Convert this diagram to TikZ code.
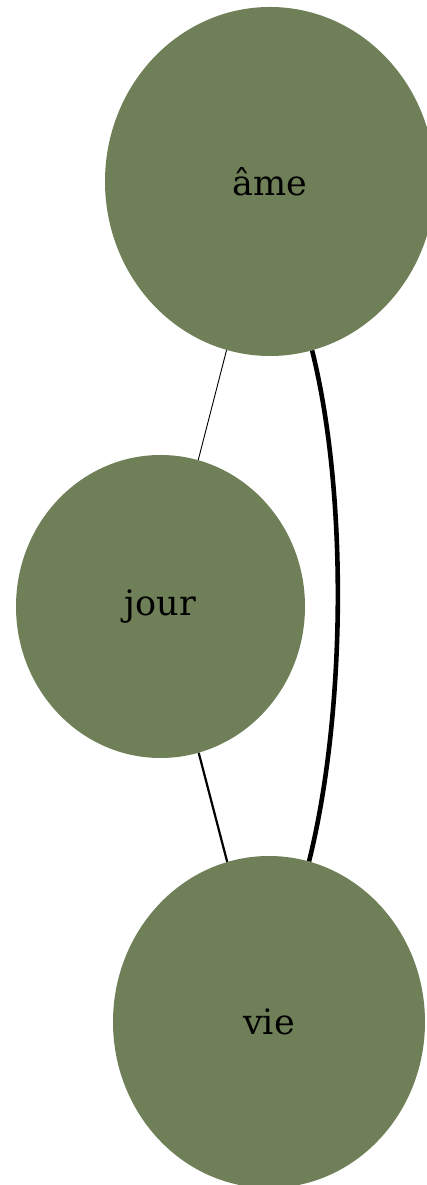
\documentclass[tikz,border=0pt]{standalone}
\usepackage{fontspec}
\setmainfont{DejaVu Serif}
\usetikzlibrary{shapes.geometric}
\definecolor{nodegreen}{RGB}{111,127,87}
\tikzset{
  word/.style={ellipse, fill=nodegreen, draw=none, inner sep=0pt,
    font=\fontsize{35}{40}\selectfont, text=black},
  thinedge/.style={line width=0.9pt, black},
  midedge/.style={line width=2.2pt, black},
  thickedge/.style={line width=4.6pt, black}
}
\begin{document}
\begin{tikzpicture}[x=1pt,y=1pt]
\useasboundingbox (0,0) rectangle (427,1185);
\node[word, minimum width=330pt, minimum height=349pt] (ame) at (270,1003.5) {âme};
\node[word, minimum width=289pt, minimum height=303pt] (jour) at (160.5,578.5) {jour};
\node[word, minimum width=312pt, minimum height=332pt] (vie) at (269,163) {vie};
\draw[thinedge] (ame) -- (jour);
\draw[midedge] (jour) -- (vie);
\draw[thickedge] (ame) to[out=-76, in=76, looseness=0.75] (vie);
\end{tikzpicture}
\end{document}
